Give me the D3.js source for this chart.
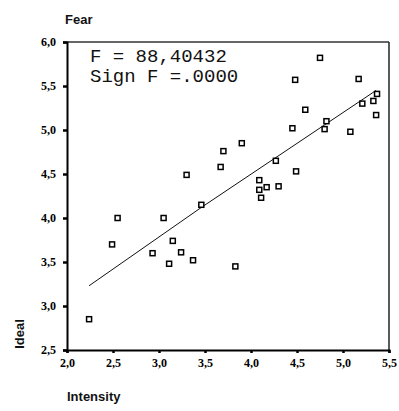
<!DOCTYPE html>
<html>
<head>
<meta charset="utf-8">
<script src="https://cdn.jsdelivr.net/npm/d3@7"></script>
<style>
  body { margin: 0; background: #fff; }
  svg { display: block; }
  .ax text { font-family: "Liberation Serif", serif; font-weight: bold; font-size: 12px; fill: #000; }
  .lbl { font-family: "Liberation Sans", Arial, sans-serif; font-weight: bold; font-size: 13px; fill: #111; }
  .stat { font-family: "Liberation Mono", "Courier New", monospace; font-size: 19px; fill: #111; }
</style>
</head>
<body>
<div id="chart"></div>
<script>
// data
let intensity = [4.75, 4.48, 5.17, 5.37, 5.21, 5.33, 5.36, 4.59, 4.82, 4.80, 4.45, 5.08,
                 3.70, 3.67, 3.30, 3.90, 4.27, 4.49, 4.09, 4.17, 4.30, 4.09, 4.11,
                 2.55, 3.05, 3.46, 2.49, 3.15, 2.93, 3.24, 3.11, 3.37, 2.24, 3.83];
let ideal = [5.82, 5.57, 5.58, 5.41, 5.30, 5.33, 5.17, 5.23, 5.10, 5.01, 5.02, 4.98,
             4.76, 4.58, 4.49, 4.85, 4.65, 4.53, 4.43, 4.35, 4.36, 4.32, 4.23,
             4.00, 4.00, 4.15, 3.70, 3.74, 3.60, 3.61, 3.48, 3.52, 2.85, 3.45];
let fitX = [2.24, 3.46, 5.36];
let fitY = [3.23, 4.12, 5.45];
let xTicks = [2.0, 2.5, 3.0, 3.5, 4.0, 4.5, 5.0, 5.5];
let yTicks = [2.5, 3.0, 3.5, 4.0, 4.5, 5.0, 5.5, 6.0];
let statLines = ["F = 88,40432", "Sign F =.0000"];

let W = 399, H = 411;
let mLeft = 67, mTop = 42, mRight = 389, mBottom = 350;

let svg = d3.select("#chart").append("svg")
    .attr("width", W)
    .attr("height", H);

let x = d3.scaleLinear().domain([2, 5.5]).range([mLeft, mRight]);
let y = d3.scaleLinear().domain([2.5, 6]).range([mBottom, mTop]);
let fmt = d => d3.format(".1f")(d).replace(".", ",");

// frame
svg.append("line").attr("x1", mLeft).attr("x2", mRight).attr("y1", mTop).attr("y2", mTop)
    .attr("stroke", "#333").attr("stroke-width", 1.5);
svg.append("line").attr("x1", mRight).attr("x2", mRight).attr("y1", mTop).attr("y2", mBottom)
    .attr("stroke", "#222").attr("stroke-width", 1.5);

// axes
let xAx = svg.append("g").attr("class", "ax")
    .attr("transform", `translate(0,${mBottom})`)
    .call(d3.axisBottom(x).tickValues(xTicks).tickFormat(fmt).tickSize(3).tickPadding(5));
let yAx = svg.append("g").attr("class", "ax")
    .attr("transform", `translate(${mLeft},0)`)
    .call(d3.axisLeft(y).tickValues(yTicks).tickFormat(fmt).tickSize(4).tickPadding(7));
svg.selectAll(".ax .domain").attr("stroke", "#000").attr("stroke-width", 2);
svg.selectAll(".ax .tick line").attr("stroke", "#000").attr("stroke-width", 2.5);

// fit line
svg.append("path")
    .datum(fitX.map((v, i) => [v, fitY[i]]))
    .attr("d", d3.line().x(d => x(d[0])).y(d => y(d[1])))
    .attr("fill", "none")
    .attr("stroke", "#111")
    .attr("stroke-width", 1);

// points
let s = 5;
svg.append("g").selectAll("rect")
    .data(intensity.map((v, i) => ({ x: v, y: ideal[i] })))
    .enter().append("rect")
    .attr("x", d => x(d.x) - s / 2)
    .attr("y", d => y(d.y) - s / 2)
    .attr("width", s)
    .attr("height", s)
    .attr("fill", "#fff")
    .attr("stroke", "#000")
    .attr("stroke-width", 1.5);

// stats
svg.selectAll(".stat").data(statLines).enter().append("text")
    .attr("class", "stat")
    .attr("x", 90)
    .attr("y", (d, i) => 62 + i * 20)
    .attr("xml:space", "preserve")
    .text(d => d);

// labels
svg.append("text").attr("class", "lbl").attr("x", 65).attr("y", 24).text("Fear");
svg.append("text").attr("class", "lbl").attr("x", 67).attr("y", 401).text("Intensity");
svg.append("text").attr("class", "lbl")
    .attr("transform", "translate(24,334) rotate(-90)")
    .attr("text-anchor", "middle")
    .text("Ideal");
</script>
</body>
</html>
